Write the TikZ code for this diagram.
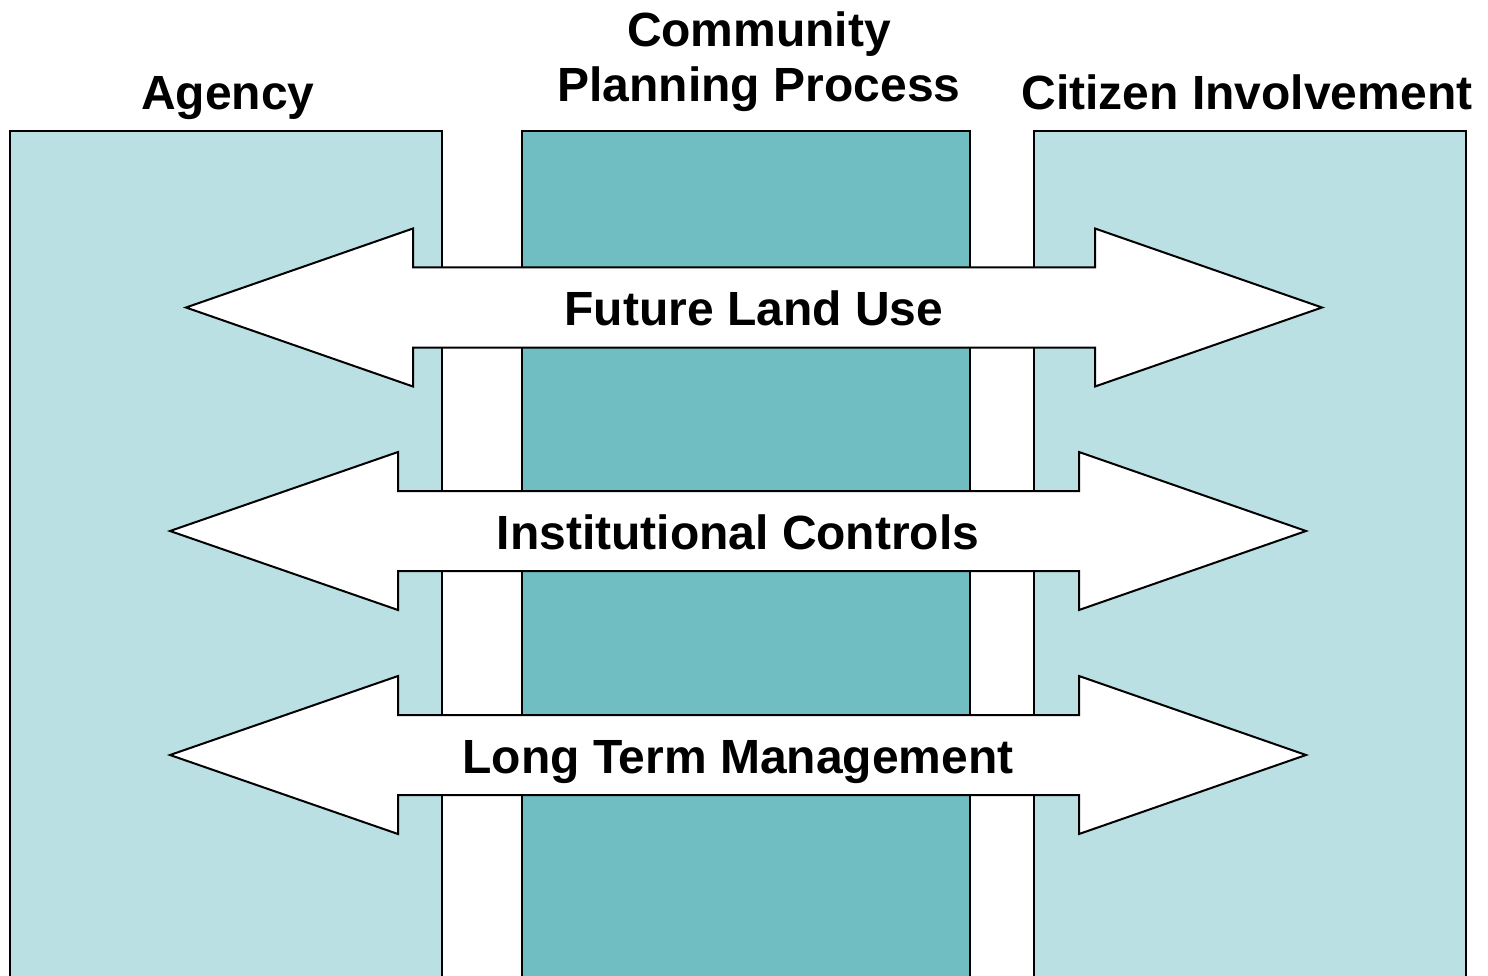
\documentclass[tikz,border=0pt]{standalone}
\usepackage{fontspec}
\setmainfont{Liberation Sans}
\definecolor{lightteal}{HTML}{BBE0E3}
\definecolor{darkteal}{HTML}{70BDC2}
\newcommand\dblarrowshape[5]{%
  \draw[dblarrow] (#1,#5) -- ({#2},{#5-79}) -- ({#2},{#5-40}) -- ({#3},{#5-40}) -- ({#3},{#5-79})
    -- (#4,#5) -- ({#3},{#5+79}) -- ({#3},{#5+40}) -- ({#2},{#5+40}) -- ({#2},{#5+79}) -- cycle;}
\begin{document}
\begin{tikzpicture}[x=1pt,y=-1pt, line width=2pt, line join=miter,
  col/.style={draw=black, fill=#1},
  dblarrow/.style={draw=black, fill=white},
  lbl/.style={font=\fontsize{48}{54}\selectfont\bfseries, inner sep=0pt, anchor=base}]
\useasboundingbox (0,0) rectangle (1488,976);
\begin{scope}
  \clip (0,0) rectangle (1488,976);
  \draw[col=lightteal] (10,131) rectangle (442,1000);
  \draw[col=darkteal] (522,131) rectangle (970,1000);
  \draw[col=lightteal] (1034,131) rectangle (1466,1000);
\end{scope}
\dblarrowshape{186}{413}{1095}{1322}{307.5}
\dblarrowshape{170}{398}{1079}{1306}{531}
\dblarrowshape{170}{398}{1079}{1306}{755}
\node[lbl] (agency) at (228,110) {Agency};
\node[lbl] (comm1) at (759,47) {Community};
\node[lbl] (comm2) at (759,102) {Planning Process};
\node[lbl] (citizen) at (1247,110) {Citizen Involvement};
\node[lbl] (flu) at (754,325) {Future Land Use};
\node[lbl] (ic) at (738,549) {Institutional Controls};
\node[lbl] (ltm) at (738,773) {Long Term Management};
\end{tikzpicture}
\end{document}
